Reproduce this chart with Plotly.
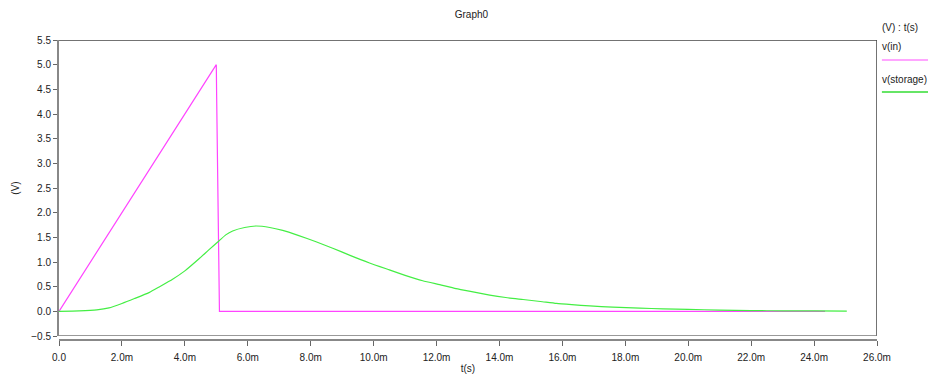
import plotly.graph_objects as go

# Transient simulation results (time in ms, voltage in V)
t_in = [0.0, 5.0, 5.01, 5.04, 5.06, 5.07, 5.1, 24.35]
v_in = [0.0, 5.0, 4.4, 3.1, 2.05, 0.84, 0.0, 0.0]

t_storage = [0.0, 0.64, 1.2, 1.59, 2.0, 2.4, 2.86, 3.2, 3.61, 4.0, 4.46, 4.77, 5.09,
             5.3, 5.52, 5.9, 6.26, 6.7, 7.11, 7.6, 8.17, 8.7, 9.23, 9.87, 10.5, 11.0,
             11.56, 12.1, 12.62, 13.2, 13.69, 14.2, 14.75, 15.3, 15.81, 16.3,
             16.87, 17.6, 18.46, 19.2, 20.0, 21.0, 22.0, 23.0, 24.0, 25.04]
v_storage = [0.0, 0.01, 0.03, 0.07, 0.16, 0.26, 0.38, 0.50, 0.65, 0.82, 1.07, 1.25, 1.43,
             1.55, 1.63, 1.70, 1.73, 1.70, 1.64, 1.54, 1.41, 1.28, 1.14, 0.98, 0.84, 0.73,
             0.62, 0.54, 0.46, 0.39, 0.33, 0.28, 0.24, 0.20, 0.16, 0.135,
             0.11, 0.085, 0.065, 0.05, 0.04, 0.025, 0.015, 0.01, 0.008, 0.005]

series_names = ["v(in)", "v(storage)"]
series_colors = ["#ff44ff", "#44ee44"]
legend_colors = ["#ff88ff", "#33dd33"]

x_ticks = [0, 2, 4, 6, 8, 10, 12, 14, 16, 18, 20, 22, 24, 26]
x_ticktext = ["0.0"] + [f"{v:.1f}m" for v in x_ticks[1:]]

font_family = "Liberation Sans, Arial, sans-serif"

fig = go.Figure()
fig.add_trace(go.Scatter(x=t_in, y=v_in, mode="lines", name=series_names[0],
                         line=dict(color=series_colors[0], width=1.2)))
fig.add_trace(go.Scatter(x=t_storage, y=v_storage, mode="lines", name=series_names[1],
                         line=dict(color=series_colors[1], width=1.2,
                                   shape="spline", smoothing=0.5)))

fig.update_layout(
    width=928, height=376,
    margin=dict(l=59, r=51, t=40, b=36),
    plot_bgcolor="white", paper_bgcolor="white",
    showlegend=False,
    font=dict(family=font_family, size=10, color="#222"),
    title=dict(text="Graph0", x=0.508, xanchor="center", y=0.962, yanchor="middle",
               font=dict(size=10, color="#222")),
    xaxis=dict(range=[0, 26], tickvals=x_ticks, ticktext=x_ticktext,
               showgrid=False, zeroline=False, showline=True, linecolor="#888",
               linewidth=2, ticks="outside", ticklen=5, tickcolor="#666",
               ticklabelstandoff=3,
               anchor="free", position=0, automargin=False,
               title=dict(text="t(s)", standoff=2, font=dict(size=10))),
    yaxis=dict(range=[-0.5, 5.5], dtick=0.5, tickformat=".1f", domain=[0.0133, 1],
               showgrid=False, zeroline=False, showline=True, linecolor="#888",
               linewidth=2, ticks="outside", ticklen=4, tickcolor="#666",
               automargin=False,
               title=dict(text="(V)", standoff=10, font=dict(size=10))),
)

# Dark frame around the data area (top, right, bottom)
fig.add_shape(type="line", xref="x", yref="y", x0=0, x1=26, y0=5.5, y1=5.5,
              line=dict(color="#444", width=1.5))
fig.add_shape(type="line", xref="x", yref="y", x0=26, x1=26, y0=-0.5, y1=5.5,
              line=dict(color="#444", width=1.5))
fig.add_shape(type="line", xref="x", yref="y", x0=0, x1=26, y0=-0.5, y1=-0.5,
              line=dict(color="#777", width=1.5))

# Side key: header, then each series name above a sample line
fig.add_annotation(text="(V) : t(s)", xref="paper", yref="paper", x=1.004, y=1.04,
                   xanchor="left", yanchor="middle", showarrow=False,
                   font=dict(size=10, color="#222"))
key_y = [0.98, 0.867]
line_y = [0.933, 0.827]
for name, col, ty, ly in zip(series_names, legend_colors, key_y, line_y):
    fig.add_annotation(text=name, xref="paper", yref="paper", x=1.004, y=ty,
                       xanchor="left", yanchor="middle", showarrow=False,
                       font=dict(size=10, color="#222"))
    fig.add_shape(type="line", xref="paper", yref="paper", x0=1.006, x1=1.07,
                  y0=ly, y1=ly, line=dict(color=col, width=1.5))

fig.write_html("out.html")
